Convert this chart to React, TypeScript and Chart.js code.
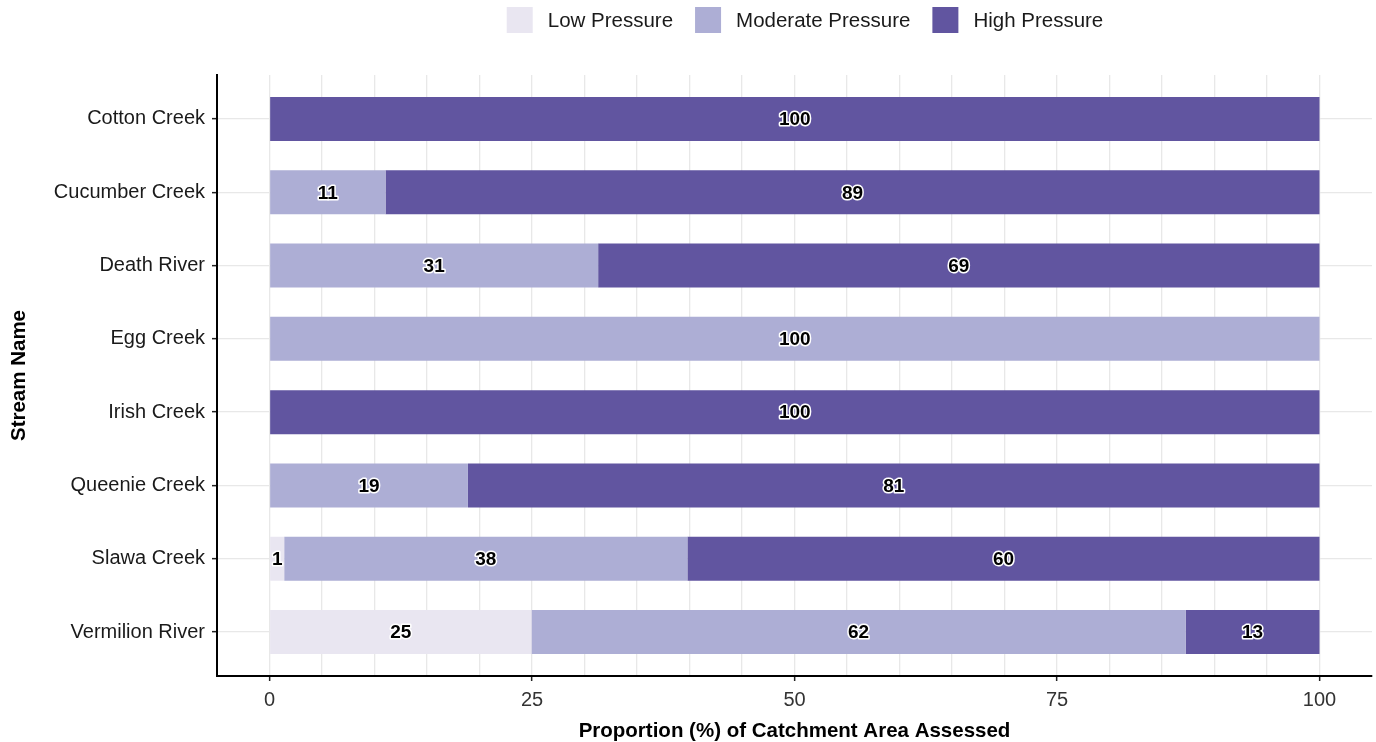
import React, { useEffect, useRef } from 'react';
import { Chart, registerables } from 'chart.js';

Chart.register(...registerables);

const STREAMS = [
  'Cotton Creek',
  'Cucumber Creek',
  'Death River',
  'Egg Creek',
  'Irish Creek',
  'Queenie Creek',
  'Slawa Creek',
  'Vermilion River',
];
const LOW = [0, 0, 0, 0, 0, 0, 1.4, 24.95];
const MODERATE = [0, 11.05, 31.3, 100, 0, 18.9, 38.4, 62.3];
const HIGH = [100, 88.95, 68.7, 0, 100, 81.1, 60.2, 12.75];
const SERIES_NAMES = ['Low Pressure', 'Moderate Pressure', 'High Pressure'];
const SERIES_COLORS = ['#e9e6f1', '#adaed5', '#6155a0'];
const X_LABELED_TICKS = [0, 25, 50, 75, 100];
const X_TITLE = 'Proportion (%) of Catchment Area Assessed';
const Y_TITLE = 'Stream Name';

const FONT = '"Liberation Sans", Arial, Helvetica, sans-serif';

const legendPlugin = {
  id: 'topLegend',
  afterDraw(chart: any) {
    const ctx = chart.ctx;
    ctx.save();
    ctx.font = `20.5px ${FONT}`;
    const box = 26;
    const gapText = 15;
    const gapItem = 22;
    const items = chart.data.datasets.map((ds: any) => ({
      label: ds.label,
      color: ds.backgroundColor,
      w: ctx.measureText(ds.label).width,
    }));
    const total =
      items.reduce((s: number, it: any) => s + box + gapText + it.w, 0) + gapItem * (items.length - 1);
    let x = 805 - total / 2;
    const cy = 20;
    items.forEach((it: any) => {
      ctx.fillStyle = it.color;
      ctx.fillRect(x, cy - box / 2, box, box);
      ctx.fillStyle = '#1a1a1a';
      ctx.textBaseline = 'middle';
      ctx.textAlign = 'left';
      ctx.fillText(it.label, x + box + gapText, cy + 1);
      x += box + gapText + it.w + gapItem;
    });
    ctx.restore();
  },
};

const valueLabelPlugin = {
  id: 'valueLabels',
  afterDatasetsDraw(chart: any) {
    const ctx = chart.ctx;
    ctx.save();
    ctx.font = `bold 19px ${FONT}`;
    ctx.textAlign = 'center';
    ctx.textBaseline = 'middle';
    ctx.lineJoin = 'round';
    chart.data.datasets.forEach((ds: any, di: number) => {
      const meta = chart.getDatasetMeta(di);
      meta.data.forEach((el: any, i: number) => {
        const v = ds.data[i].x;
        if (!v) return;
        const { x, y, base } = el.getProps(['x', 'y', 'base'], true);
        const cx = (x + base) / 2;
        const txt = String(Math.round(v));
        ctx.lineWidth = 3;
        ctx.strokeStyle = '#ffffff';
        ctx.strokeText(txt, cx, y + 1);
        ctx.fillStyle = '#000000';
        ctx.fillText(txt, cx, y + 1);
      });
    });
    ctx.restore();
  },
};

export default function App() {
  const canvasRef = useRef<HTMLCanvasElement | null>(null);

  useEffect(() => {
    if (!canvasRef.current) return;
    const series = [LOW, MODERATE, HIGH];
    const chart = new Chart(canvasRef.current, {
      type: 'bar',
      data: {
        datasets: series.map((vals, si) => ({
          label: SERIES_NAMES[si],
          data: vals.map((v, i) => ({ x: v, y: i + 1 })),
          backgroundColor: SERIES_COLORS[si],
          borderWidth: 0,
          barPercentage: 0.6,
          categoryPercentage: 1,
        })),
      },
      options: {
        indexAxis: 'y',
        animation: false,
        responsive: true,
        maintainAspectRatio: false,
        layout: { padding: { top: 75, right: 4, left: 0, bottom: 0 } },
        plugins: {
          legend: { display: false },
          tooltip: { enabled: false },
        },
        scales: {
          x: {
            type: 'linear',
            stacked: true,
            offset: false,
            min: -5,
            max: 105,
            afterFit: (scale: any) => {
              scale.height = 66;
              scale.paddingLeft = 0;
              scale.paddingRight = 0;
            },
            ticks: {
              stepSize: 5,
              autoSkip: false,
              maxRotation: 0,
              padding: 7,
              color: '#333333',
              font: { family: FONT, size: 20 },
              callback: (value: any) => (X_LABELED_TICKS.includes(Number(value)) ? String(value) : ''),
            },
            grid: {
              offset: false,
              color: (ctx: any) =>
                ctx.tick && ctx.tick.value >= 0 && ctx.tick.value <= 100 ? '#e8e8e8' : 'rgba(0,0,0,0)',
              lineWidth: 1.3,
              tickLength: 5,
              tickColor: (ctx: any) =>
                ctx.tick && X_LABELED_TICKS.includes(ctx.tick.value) ? '#222222' : 'rgba(0,0,0,0)',
              tickWidth: 1.5,
            },
            border: { display: true, color: '#000000', width: 2 },
            title: {
              display: true,
              text: X_TITLE,
              color: '#000000',
              font: { family: FONT, size: 20.5, weight: 'bold', lineHeight: 1.0 },
              padding: { top: 0, bottom: 0 },
            },
          },
          y: {
            type: 'linear',
            stacked: true,
            reverse: true,
            offset: false,
            min: 0.4,
            max: 8.6,
            afterFit: (scale: any) => {
              scale.width = 217;
              scale.paddingTop = 0;
              scale.paddingBottom = 0;
            },
            afterBuildTicks: (scale: any) => {
              scale.ticks = STREAMS.map((_, i) => ({ value: i + 1 }));
            },
            ticks: {
              autoSkip: false,
              padding: 7,
              color: '#1a1a1a',
              font: { family: FONT, size: 20 },
              callback: (value: any) => STREAMS[Number(value) - 1] ?? '',
            },
            grid: {
              offset: false,
              color: '#e8e8e8',
              lineWidth: 1.3,
              tickLength: 5,
              tickColor: '#222222',
              tickWidth: 1.5,
            },
            border: { display: true, color: '#000000', width: 2 },
            title: {
              display: true,
              text: Y_TITLE,
              color: '#000000',
              font: { family: FONT, size: 20.5, weight: 'bold' },
              padding: { top: 7, bottom: 0 },
            },
          },
        },
      } as any,
      plugins: [legendPlugin, valueLabelPlugin],
    });
    return () => chart.destroy();
  }, []);

  return (
    <div style={{ position: 'fixed', left: 0, top: 0, width: 1376, height: 742, background: '#ffffff' }}>
      <canvas ref={canvasRef} style={{ display: 'block' }} />
    </div>
  );
}
